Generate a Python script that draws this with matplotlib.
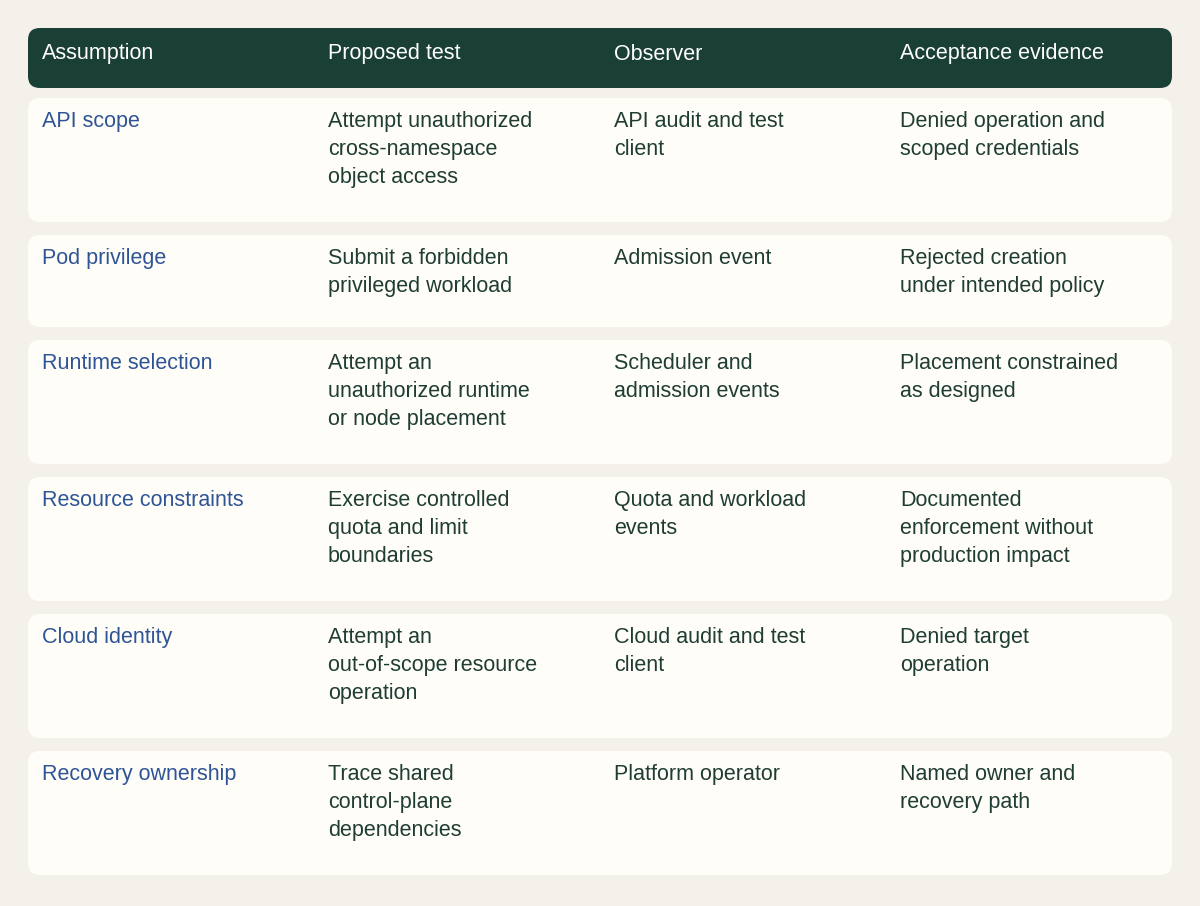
import matplotlib.pyplot as plt
from matplotlib.patches import FancyBboxPatch

headers = ["Assumption", "Proposed test", "Observer", "Acceptance evidence"]
assumptions = ["API scope", "Pod privilege", "Runtime selection",
               "Resource constraints", "Cloud identity", "Recovery ownership"]
tests = ["Attempt unauthorized\ncross-namespace\nobject access",
         "Submit a forbidden\nprivileged workload",
         "Attempt an\nunauthorized runtime\nor node placement",
         "Exercise controlled\nquota and limit\nboundaries",
         "Attempt an\nout-of-scope resource\noperation",
         "Trace shared\ncontrol-plane\ndependencies"]
observers = ["API audit and test\nclient", "Admission event",
             "Scheduler and\nadmission events", "Quota and workload\nevents",
             "Cloud audit and test\nclient", "Platform operator"]
evidence = ["Denied operation and\nscoped credentials",
            "Rejected creation\nunder intended policy",
            "Placement constrained\nas designed",
            "Documented\nenforcement without\nproduction impact",
            "Denied target\noperation",
            "Named owner and\nrecovery path"]

BG = "#f4f1ea"
HEAD = "#1a3f35"
ROW = "#fffdf8"
BLUE = "#2f5496"
GREEN = "#1f3d33"

fig = plt.figure(figsize=(12, 9.06), dpi=100, facecolor=BG)
ax = fig.add_axes([0, 0, 1, 1])
ax.set_xlim(0, 1200)
ax.set_ylim(906, 0)
ax.axis("off")
plt.rcParams["font.family"] = ["Liberation Sans", "DejaVu Sans"]

col_x = [42, 328, 614, 900]
left, right = 28, 1172
line_h = 32
fs = 15.5

def box(y0, y1, color):
    ax.add_patch(FancyBboxPatch((left, y0), right - left, y1 - y0,
                                boxstyle="round,pad=0,rounding_size=12",
                                fc=color, ec="none"))

box(28, 88, HEAD)
for x, h in zip(col_x, headers):
    ax.text(x, 54, h, color="white", fontsize=fs, va="center", ha="left")

y = 98
gap = 13
for cells in zip(assumptions, tests, observers, evidence):
    nlines = max(c.count("\n") + 1 for c in cells)
    height = 28 + nlines * line_h
    box(y, y + height, ROW)
    for i, (x, c) in enumerate(zip(col_x, cells)):
        ax.text(x, y + 13, c, color=BLUE if i == 0 else GREEN, fontsize=fs,
                va="top", ha="left", linespacing=1.45)
    y += height + gap

fig.savefig("out.png", dpi=100, facecolor=BG)
